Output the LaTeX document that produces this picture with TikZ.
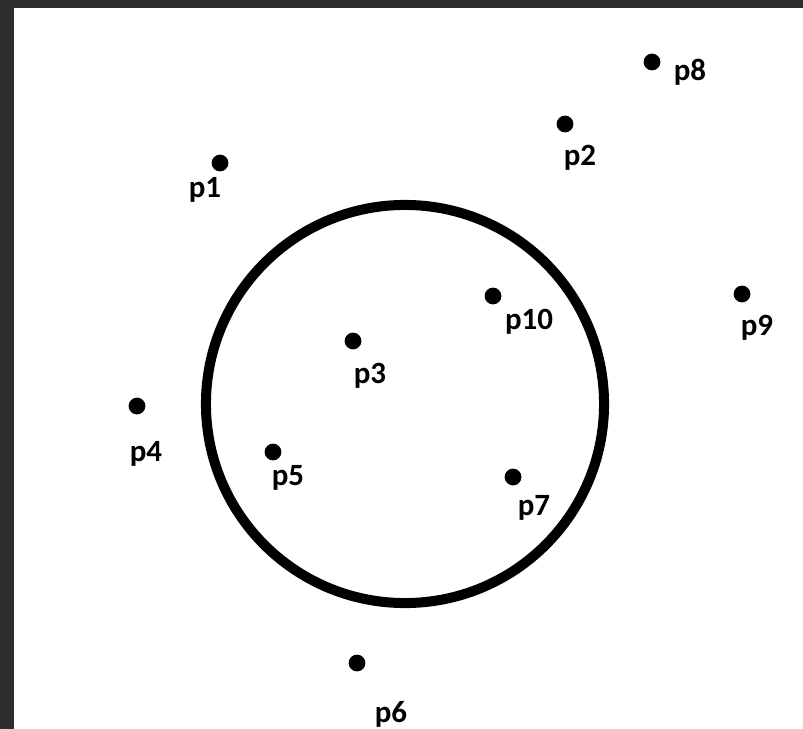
\documentclass[tikz,border=0pt]{standalone}
\usepackage{fontspec}
\setmainfont{Carlito}
\usetikzlibrary{positioning}

\begin{document}
\begin{tikzpicture}[
		x=0.025cm, y=-0.025cm,
		% Define styles for the points and labels
		dot/.style={
			circle, fill=black, inner sep=0pt, minimum size=0.42cm
		},
		plabel/.style={
			inner sep=0pt, font=\fontsize{22}{26}\selectfont\bfseries
		},
		ring/.style={
			draw=black, line width=0.25cm
		}
		]
		
		% Frame and white canvas
		\useasboundingbox (0,0) rectangle (803,729);
		\fill[black!82] (0,0) rectangle (803,729);
		\fill[white] (14,8) rectangle (803,729);
		
		% Define the circle
		\node[ring, circle, minimum size=9.95cm, inner sep=0pt] (disc) at (405,404) {};
		
		% Define the points
		\node[dot] (p1) at (220,163) {};
		\node[dot] (p2) at (565,124) {};
		\node[dot] (p3) at (353,341) {};
		\node[dot] (p4) at (137,406) {};
		\node[dot] (p5) at (273,452) {};
		\node[dot] (p6) at (357,663) {};
		\node[dot] (p7) at (513,477) {};
		\node[dot] (p8) at (652,62) {};
		\node[dot] (p9) at (742,294) {};
		\node[dot] (p10) at (493,296) {};
		
		% Labels next to the points
		\node[plabel] (l1) at (205,190) {p1};
		\node[plabel] (l2) at (580,158) {p2};
		\node[plabel] (l3) at (370,376) {p3};
		\node[plabel] (l4) at (146,454) {p4};
		\node[plabel] (l5) at (288,478) {p5};
		\node[plabel] (l6) at (391,714) {p6};
		\node[plabel] (l7) at (534,508) {p7};
		\node[plabel] (l8) at (690,72) {p8};
		\node[plabel] (l9) at (757,328) {p9};
		\node[plabel] (l10) at (529,322) {p10};
		
	\end{tikzpicture}
\end{document}
